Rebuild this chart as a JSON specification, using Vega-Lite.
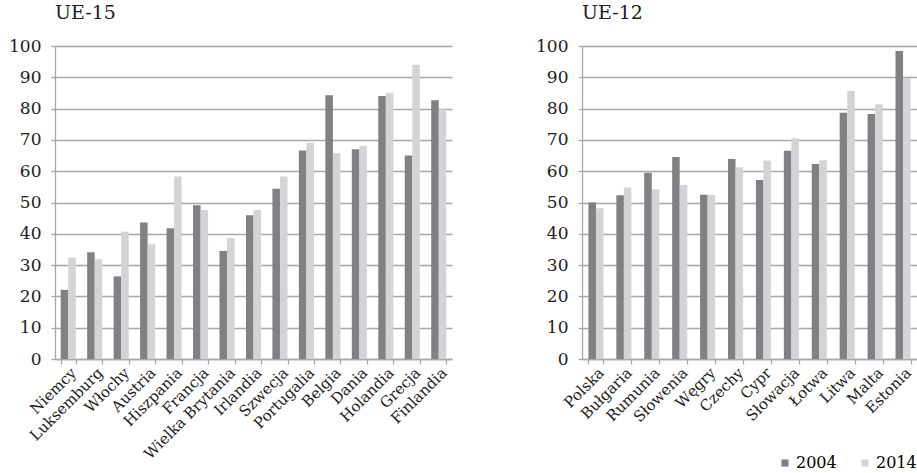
{
  "$schema": "https://vega.github.io/schema/vega-lite/v6.json",
  "padding": {"left": 5, "top": 4, "right": 0, "bottom": 0},
  "background": "white",
  "config": {
    "font": "DejaVu Serif",
    "view": {"stroke": null},
    "axis": {"labelFont": "DejaVu Serif", "labelColor": "#1e1e1e", "domainColor": "#a8a8a8", "tickColor": "#a8a8a8", "gridColor": "#a8a8a8", "domainWidth": 1.3, "tickWidth": 1.3, "gridWidth": 1.3, "title": null},
    "title": {"font": "DejaVu Serif", "fontSize": 19, "fontWeight": "normal", "anchor": "start", "frame": "group", "color": "#1e1e1e", "offset": 14},
    "concat": {"spacing": 80}
  },
  "datasets": {
    "ue15": [
      {"kraj": "Niemcy", "rok": "2004", "v": 22.1}, {"kraj": "Niemcy", "rok": "2014", "v": 32.4},
      {"kraj": "Luksemburg", "rok": "2004", "v": 34.1}, {"kraj": "Luksemburg", "rok": "2014", "v": 31.9},
      {"kraj": "Włochy", "rok": "2004", "v": 26.4}, {"kraj": "Włochy", "rok": "2014", "v": 40.7},
      {"kraj": "Austria", "rok": "2004", "v": 43.6}, {"kraj": "Austria", "rok": "2014", "v": 36.7},
      {"kraj": "Hiszpania", "rok": "2004", "v": 41.8}, {"kraj": "Hiszpania", "rok": "2014", "v": 58.3},
      {"kraj": "Francja", "rok": "2004", "v": 49.1}, {"kraj": "Francja", "rok": "2014", "v": 47.6},
      {"kraj": "Wielka Brytania", "rok": "2004", "v": 34.5}, {"kraj": "Wielka Brytania", "rok": "2014", "v": 38.7},
      {"kraj": "Irlandia", "rok": "2004", "v": 45.9}, {"kraj": "Irlandia", "rok": "2014", "v": 47.6},
      {"kraj": "Szwecja", "rok": "2004", "v": 54.4}, {"kraj": "Szwecja", "rok": "2014", "v": 58.3},
      {"kraj": "Portugalia", "rok": "2004", "v": 66.6}, {"kraj": "Portugalia", "rok": "2014", "v": 69.1},
      {"kraj": "Belgia", "rok": "2004", "v": 84.3}, {"kraj": "Belgia", "rok": "2014", "v": 65.7},
      {"kraj": "Dania", "rok": "2004", "v": 67.0}, {"kraj": "Dania", "rok": "2014", "v": 68.1},
      {"kraj": "Holandia", "rok": "2004", "v": 84.0}, {"kraj": "Holandia", "rok": "2014", "v": 85.1},
      {"kraj": "Grecja", "rok": "2004", "v": 65.0}, {"kraj": "Grecja", "rok": "2014", "v": 94.0},
      {"kraj": "Finlandia", "rok": "2004", "v": 82.7}, {"kraj": "Finlandia", "rok": "2014", "v": 79.8}
    ],
    "ue12": [
      {"kraj": "Polska", "rok": "2004", "v": 50.0}, {"kraj": "Polska", "rok": "2014", "v": 48.2},
      {"kraj": "Bułgaria", "rok": "2004", "v": 52.3}, {"kraj": "Bułgaria", "rok": "2014", "v": 54.8},
      {"kraj": "Rumunia", "rok": "2004", "v": 59.5}, {"kraj": "Rumunia", "rok": "2014", "v": 54.2},
      {"kraj": "Słowenia", "rok": "2004", "v": 64.5}, {"kraj": "Słowenia", "rok": "2014", "v": 55.6},
      {"kraj": "Węgry", "rok": "2004", "v": 52.5}, {"kraj": "Węgry", "rok": "2014", "v": 52.4},
      {"kraj": "Czechy", "rok": "2004", "v": 63.9}, {"kraj": "Czechy", "rok": "2014", "v": 61.3},
      {"kraj": "Cypr", "rok": "2004", "v": 57.2}, {"kraj": "Cypr", "rok": "2014", "v": 63.4},
      {"kraj": "Słowacja", "rok": "2004", "v": 66.5}, {"kraj": "Słowacja", "rok": "2014", "v": 70.5},
      {"kraj": "Łotwa", "rok": "2004", "v": 62.3}, {"kraj": "Łotwa", "rok": "2014", "v": 63.5},
      {"kraj": "Litwa", "rok": "2004", "v": 78.7}, {"kraj": "Litwa", "rok": "2014", "v": 85.6},
      {"kraj": "Malta", "rok": "2004", "v": 78.3}, {"kraj": "Malta", "rok": "2014", "v": 81.4},
      {"kraj": "Estonia", "rok": "2004", "v": 98.4}, {"kraj": "Estonia", "rok": "2014", "v": 89.8}
    ]
  },
  "hconcat": [
    {
      "title": "UE-15",
      "width": 397,
      "height": 313,
      "data": {"name": "ue15"},
      "mark": {"type": "bar"},
      "encoding": {
        "x": {"field": "kraj", "type": "nominal", "sort": null, "scale": {"paddingInner": 0.43, "paddingOuter": 0.215}, "axis": {"labelAngle": -45, "labelFontSize": 15, "tickBand": "extent", "tickSize": 5, "grid": false, "labelPadding": 1}},
        "xOffset": {"field": "rok", "type": "nominal", "scale": {"paddingInner": 0, "paddingOuter": 0}},
        "y": {"field": "v", "type": "quantitative", "scale": {"domain": [0, 100]}, "axis": {"values": [0, 10, 20, 30, 40, 50, 60, 70, 80, 90, 100], "labelFontSize": 17, "tickSize": 4, "labelPadding": 10, "minExtent": 50, "maxExtent": 50, "grid": true}},
        "color": {"field": "rok", "type": "nominal", "scale": {"domain": ["2004", "2014"], "range": ["#808085", "#d4d4d6"]}, "legend": {"orient": "none", "legendX": 722, "legendY": 409, "direction": "horizontal", "title": null, "symbolType": "square", "symbolSize": 50, "labelFontSize": 16, "labelFont": "DejaVu Serif", "columnPadding": 20, "labelOffset": 3, "symbolStrokeWidth": 0}}
      }
    },
    {
      "title": "UE-12",
      "width": 335,
      "height": 313,
      "data": {"name": "ue12"},
      "mark": {"type": "bar"},
      "encoding": {
        "x": {"field": "kraj", "type": "nominal", "sort": null, "scale": {"paddingInner": 0.46, "paddingOuter": 0.23}, "axis": {"labelAngle": -45, "labelFontSize": 15, "tickBand": "extent", "tickSize": 5, "grid": false, "labelPadding": 1}},
        "xOffset": {"field": "rok", "type": "nominal", "scale": {"paddingInner": 0, "paddingOuter": 0}},
        "y": {"field": "v", "type": "quantitative", "scale": {"domain": [0, 100]}, "axis": {"values": [0, 10, 20, 30, 40, 50, 60, 70, 80, 90, 100], "labelFontSize": 17, "tickSize": 4, "labelPadding": 10, "minExtent": 50, "maxExtent": 50, "grid": true}},
        "color": {"field": "rok", "type": "nominal", "scale": {"domain": ["2004", "2014"], "range": ["#808085", "#d4d4d6"]}, "legend": {"orient": "none", "legendX": 722, "legendY": 409, "direction": "horizontal", "title": null, "symbolType": "square", "symbolSize": 50, "labelFontSize": 16, "labelFont": "DejaVu Serif", "columnPadding": 20, "labelOffset": 3, "symbolStrokeWidth": 0}}
      }
    }
  ]
}
